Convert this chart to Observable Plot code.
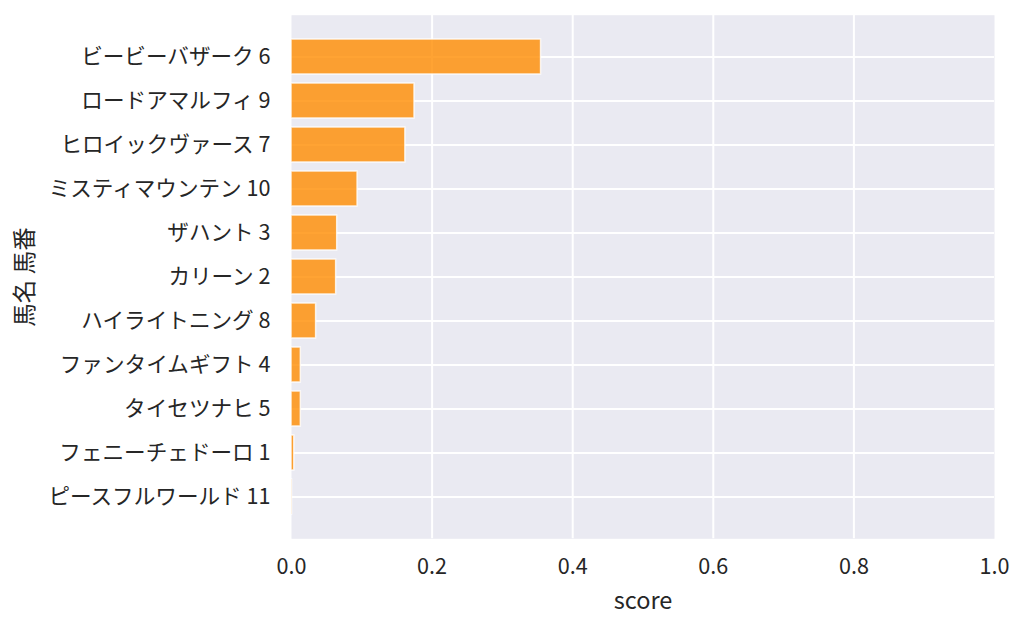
<!DOCTYPE html>
<html>
<head>
<meta charset="utf-8">
<script src="https://cdn.jsdelivr.net/npm/d3@7"></script>
<script src="https://cdn.jsdelivr.net/npm/@observablehq/plot@0.6"></script>
<style>
  html, body { margin: 0; padding: 0; background: white; }
</style>
</head>
<body>
<div id="chart"></div>
<script>
const horseNames = ["ビービーバザーク", "ロードアマルフィ", "ヒロイックヴァース", "ミスティマウンテン", "ザハント", "カリーン", "ハイライトニング", "ファンタイムギフト", "タイセツナヒ", "フェニーチェドーロ", "ピースフルワールド"];
const horseNumbers = [6, 9, 7, 10, 3, 2, 8, 4, 5, 1, 11];
const scores = [0.355, 0.175, 0.162, 0.094, 0.065, 0.0635, 0.035, 0.0133, 0.0133, 0.004, 0.0008];
const xTicks = [0, 0.2, 0.4, 0.6, 0.8, 1.0];
const xLabel = "score";
const yLabel = "馬名 馬番";

const labels = horseNames.map((n, i) => `${n} ${horseNumbers[i]}`);
const data = labels.map((label, i) => ({label, score: scores[i]}));

const font = "'Noto Sans CJK JP', 'Noto Sans', sans-serif";
const textColor = "#262626";

const chart = Plot.plot({
  width: 1024,
  height: 627,
  marginLeft: 291,
  marginRight: 30,
  marginTop: 14.7,
  marginBottom: 88.7,
  style: {fontFamily: font, fontSize: "21.6px", color: textColor, background: "white", overflow: "visible"},
  x: {domain: [0, 1], axis: null},
  y: {domain: labels, paddingInner: 0.2, paddingOuter: 0.54, align: 0.5, axis: null},
  marks: [
    Plot.frame({fill: "#EAEAF2", stroke: null}),
    Plot.gridX(xTicks.slice(1, -1), {stroke: "white", strokeOpacity: 1, strokeWidth: 2}),
    Plot.gridY(labels, {stroke: "white", strokeOpacity: 1, strokeWidth: 2}),
    Plot.barX(data, {x: "score", y: "label", fill: "darkorange", fillOpacity: 0.8, stroke: "white", strokeOpacity: 0.8, strokeWidth: 1.5}),
    Plot.axisX(xTicks, {tickSize: 0, tickPadding: 20, tickFormat: d3.format(".1f"), label: null, fontSize: 21.6, fill: textColor}),
    Plot.axisY(labels, {tickSize: 0, tickPadding: 21, label: null, fontSize: 21.6, fill: textColor}),
    Plot.text([xLabel], {frameAnchor: "bottom", dy: 63, lineAnchor: "middle", textAnchor: "middle", fontSize: 23.5, fill: textColor}),
    Plot.text([yLabel], {frameAnchor: "left", dx: -266, rotate: -90, lineAnchor: "middle", textAnchor: "middle", fontSize: 23.5, fill: textColor})
  ]
});
document.getElementById("chart").appendChild(chart);
</script>
</body>
</html>
